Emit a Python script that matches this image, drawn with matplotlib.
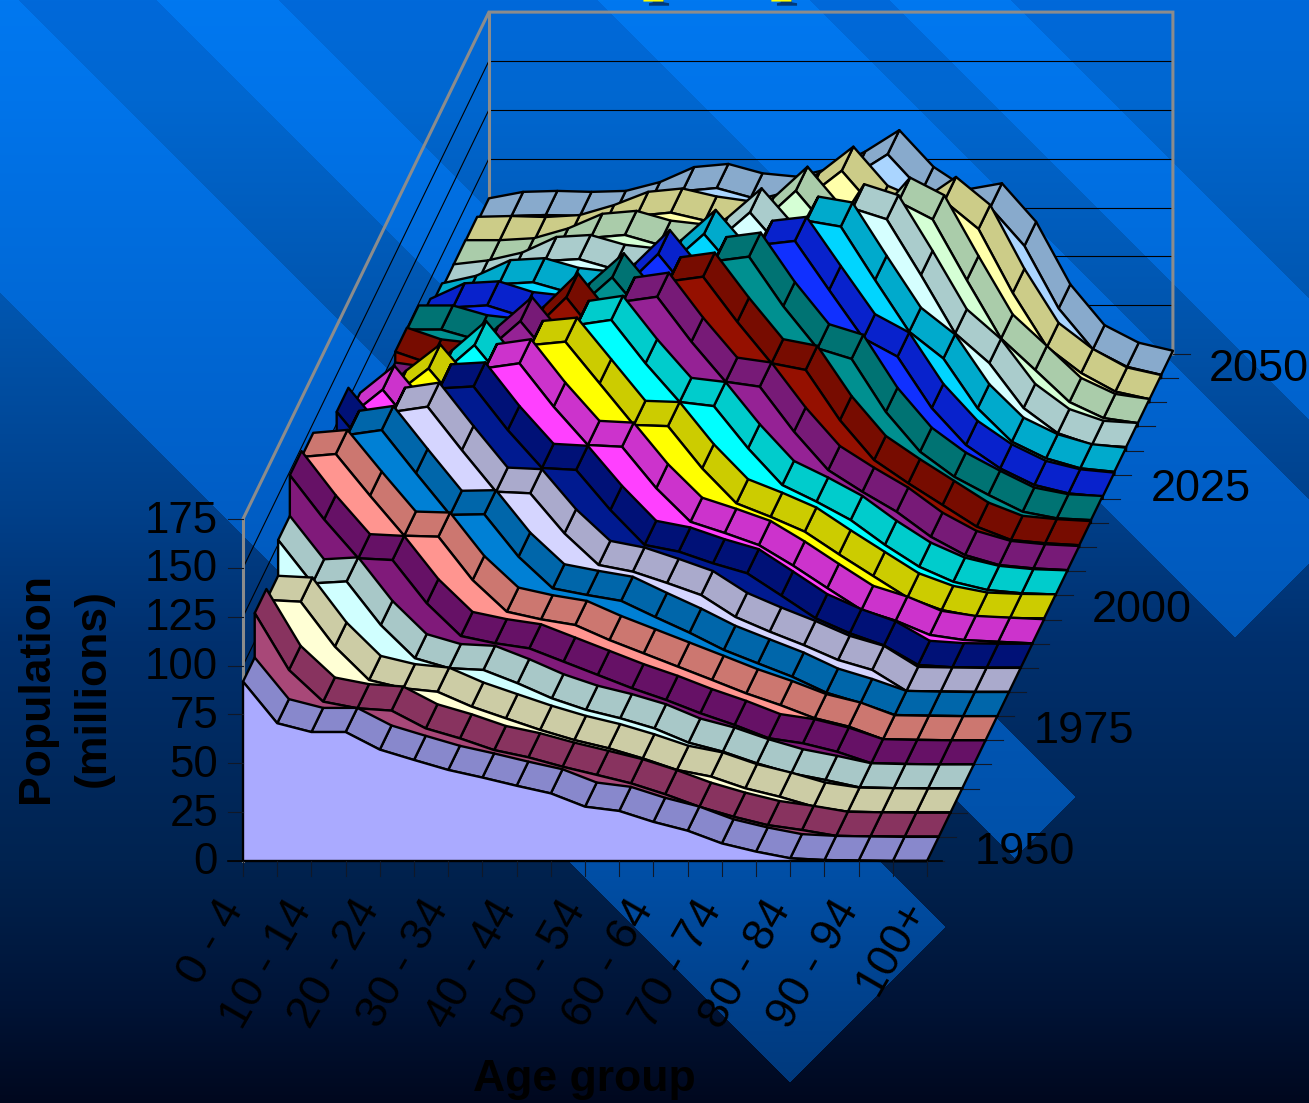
import numpy as np
import matplotlib
matplotlib.use("Agg")
import matplotlib.pyplot as plt
import matplotlib.patheffects as pe
from matplotlib.patches import Polygon

W, H = 1309, 1103
plt.rcParams['font.family'] = ['Liberation Sans', 'DejaVu Sans']

years = [1950 + 5 * k for k in range(21)]
year_labels = {0: '1950', 5: '1975', 10: '2000', 15: '2025', 20: '2050'}
age_labels = ['0 - 4', '10 - 14', '20 - 24', '30 - 34', '40 - 44', '50 - 54',
              '60 - 64', '70 - 74', '80 - 84', '90 - 94', '100+']
value_ticks = [0, 25, 50, 75, 100, 125, 150, 175]

p1950 = [91.8,70.5,66,66,57,51.7,46.6,42.7,38.5,34.6,27.8,25.6,20,15.5,9,4.8,1.4,0.5,0.2,0,0]
p1955 = [114.5,85.4,69.2,65.8,64.6,55.5,50.4,44.4,40.7,35.9,31.7,27.4,21.8,15.4,10.3,6,3.5,0.5,0.2,0,0]
p1960 = [108.9,108,85,67.9,63.7,61.9,54.3,48.3,42.4,37.2,33,27.8,21.9,18.5,12.5,8.2,3.1,0.5,0.2,0,0]
p1965 = [127.2,105,106,83.7,66.7,61.6,60.7,53.9,46.2,40.3,36,30.8,23.5,18.9,12.9,7.8,4.4,0.6,0.2,0,0]
p1970 = [148,125.4,105.5,104.6,82.5,65.7,62,59.4,52.6,45.8,39,33,26.2,20.2,13.4,10.8,6.5,0.6,0.2,0,0]
p1975 = [145,146.5,125.2,104.7,104.2,82,65.8,61.9,59,51.3,44.5,37.7,30.9,24,18,11.3,7,0.5,0.2,0,0]
p1980 = [110,143.9,146.4,124.4,103,103.3,81.6,65.4,62,59,50.7,42.7,33.9,27,20.2,12,6.7,0.6,0.2,0,0]
p1985 = [112,108,143.4,146,123.8,102.5,101.7,81.2,65,61.6,55.8,49.6,38.4,30.9,24,16.4,11.3,0.5,0.2,0,0]
p1990 = [131,110,106,143,144,121.7,102.3,101.3,80.8,62.9,59.5,53.5,48.4,37,25.4,17.7,11.5,1.5,0.3,0,0]
p1995 = [116,130,109,105,141,143.5,121.3,101.7,100.8,79.6,62.4,56.7,50.5,40,28.5,17.3,11.8,4.5,1.9,1,0.2]
p2000 = [98,115,128.5,108,104,140.5,142.2,120.9,99.6,99,77.4,59.5,52.6,45,33.4,22.3,11.3,4.9,1.5,0.8,0.6]
p2005 = [93,97,113,128.1,107,103,138.4,141,118.8,99,96.9,75.3,56.5,48,38.6,25.9,14.7,7,2.8,1.1,0.5]
p2010 = [94.5,92,97,112.8,128,107,102,138,140.5,117.5,97,94.5,71.5,51.8,40.7,30.5,17.7,8.3,3.2,1.5,0.6]
p2015 = [100,94,92,96.5,110.7,127.8,106,101,136,138.4,115.3,94.1,90.7,65,44.6,32.7,21.6,10.5,3.7,2,1]
p2020 = [99,99,94,92,96,110.3,125.7,105,100,134,136.3,111,89.4,84,56.9,36.5,23.7,14.4,5.8,2.4,1.5]
p2025 = [90,98,99,93.5,91.5,96,108.2,125.3,104,99,130,132,106.9,82.2,72.8,46.5,27.6,15.6,7.1,2.8,1.1]
p2030 = [85.6,89.5,97.5,98.5,93.5,91.5,96,107.8,123.2,103,98,130,127,99.7,73.2,59.5,34,16.9,8.4,3.3,1.5]
p2035 = [83,85,89,97,98,93,91,95.5,106.8,121.9,102,97,124,118.4,89.9,60,44.8,21.8,8.9,2.9,1.8]
p2040 = [83,83,84,89,96.5,98,93,91,95.5,104.6,120.6,100,95,115,106,74.9,45,28.9,12.5,4.3,1.7]
p2045 = [82.6,83,82.5,83.5,88.6,95.4,97.1,93,90.5,95,105,118.5,98.5,91,103,88.7,56,28.3,15,5.5,1.6]
p2050 = [79.7,83,83.5,83,83.5,88,95.7,97.3,92.5,90.8,95,103.6,114.6,95.8,84.3,87.4,67.7,35.7,14.8,5.8,1.7]

rows = [p1950,p1955,p1960,p1965,p1970,p1975,p1980,p1985,p1990,p1995,p2000,
        p2005,p2010,p2015,p2020,p2025,p2030,p2035,p2040,p2045,p2050]

front_colors = ['#AAAAFF','#A84878','#FFFFD5','#D0FFFF','#801A7A','#FF9590','#0080D5',
                '#D5D5FF','#001A90','#FF40FF','#FFFF00','#00FFFF','#952295','#951000',
                '#009090','#1030FF','#00D5FF','#D5FFFF','#D5FFD5','#FFFFAA','#AAD5FF']
top_colors = ['#8888CC','#88335F','#CCCCA5','#A8C8C8','#661166','#CC7770','#0066AA',
              '#AAAACC','#001177','#CC33CC','#CCCC00','#00CCCC','#771A77','#770C00',
              '#007373','#0822CC','#00AACC','#AACCCC','#AACCAA','#CCCC88','#88AACC']

# projection of the 3-D area chart (pixels)
X0, Y0 = 243.0, 861.0
DX, DZX, DZY, DV = 34.2, 11.71, 24.14, 1.954
def sx(i, j): return X0 + DX * i + DZX * j
def sy(j, v): return Y0 - DZY * j - DV * v

fig = plt.figure(figsize=(W / 100, H / 100), dpi=100)
ax = fig.add_axes([0, 0, 1, 1])
ax.set_xlim(0, W); ax.set_ylim(H, 0); ax.axis('off')

# background: vertical gradient with diagonal lighter bands
ystops = [0, 100, 300, 500, 640, 860, 1000, 1103]
dark = np.array([[0,105,218],[0,103,208],[0,86,176],[0,65,140],[0,48,110],[0,35,80],[0,20,55],[0,8,30]], float)
bright = np.array([[0,120,240],[0,116,234],[0,105,215],[0,94,198],[0,88,184],[0,80,168],[0,65,140],[0,55,120]], float)
yy, xx = np.mgrid[0:H, 0:W]
rgb = np.zeros((H, W, 3))
for c in range(3):
    d = np.interp(yy, ystops, dark[:, c])
    b = np.interp(yy, ystops, bright[:, c])
    mask = np.zeros_like(yy, bool)
    for lo, hi in [(-18, 292), (-278, -157), (-598 - 211, -598), (-1010, -890)]:
        mask |= ((yy - xx) >= lo) & ((yy - xx) <= hi)
    mask &= (xx + yy) <= 1871
    rgb[..., c] = np.where(mask, b, d)
ax.imshow(rgb / 255, extent=(0, W, H, 0), aspect='auto', zorder=0, interpolation='nearest')

GREY = '#8C8C8C'
FAR = len(rows)
# walls
for v in value_ticks[1:-1]:
    ax.plot([sx(0, 0), sx(0, FAR)], [sy(0, v), sy(FAR, v)], color='k', lw=0.8, zorder=1)
    ax.plot([sx(0, FAR), sx(20, FAR)], [sy(FAR, v), sy(FAR, v)], color='k', lw=0.8, zorder=1)
top = value_ticks[-1]
ax.plot([sx(0, 0), sx(0, FAR), sx(20, FAR), sx(20, FAR)],
        [sy(0, top), sy(FAR, top), sy(FAR, top), sy(FAR, 0)], color=GREY, lw=2.2, zorder=1, solid_joinstyle='miter')
ax.plot([sx(0, FAR), sx(0, FAR)], [sy(FAR, top), sy(FAR, 0)], color=GREY, lw=2.2, zorder=1)
ax.plot([sx(0, 0), sx(0, 0)], [sy(0, top), sy(0, 0)], color=GREY, lw=2.2, zorder=1)

# series, back to front
LW = 1.7
z = 2.0
for j in range(FAR - 1, -1, -1):
    vals = rows[j]
    for i in range(len(vals) - 2, -1, -1):
        quad = [(sx(i, j), sy(j, vals[i])), (sx(i + 1, j), sy(j, vals[i + 1])),
                (sx(i + 1, j + 1), sy(j + 1, vals[i + 1])), (sx(i, j + 1), sy(j + 1, vals[i]))]
        ax.add_patch(Polygon(quad, closed=True, fc=top_colors[j], ec='k', lw=LW, joinstyle='round', zorder=z))
        z += 0.001
    face = [(sx(i, j), sy(j, vals[i])) for i in range(len(vals))]
    face += [(sx(20, j), sy(j, 0)), (sx(0, j), sy(j, 0))]
    ax.add_patch(Polygon(face, closed=True, fc=front_colors[j], ec='k', lw=LW, joinstyle='round', zorder=z))
    z += 0.001

# ticks
for v in value_ticks:
    ax.plot([sx(0, 0) - 15, sx(0, 0)], [sy(0, v), sy(0, v)], color='#101828', lw=0.8, zorder=50)
    ax.text(218, sy(0, v) + 2, str(v), ha='right', va='center', fontsize=31.5, color='k', zorder=60)
ax.plot([sx(0, 0) - 15, sx(20, 0) + 15], [sy(0, 0), sy(0, 0)], color='k', lw=1.2, zorder=50)
for i in range(21):
    ax.plot([sx(i, 0), sx(i, 0)], [sy(0, 0), sy(0, 0) + 15], color='#101828', lw=0.8, zorder=50)
for k, lab in enumerate(age_labels):
    i = 2 * k
    ax.text(sx(i, 0) - 27, 893, lab, rotation=60, rotation_mode='anchor', ha='right', va='top',
            fontsize=32.5, color='k', zorder=60)
for j in range(FAR + 1):
    ax.plot([sx(20, j), sx(20, j) + 17], [sy(j, 0), sy(j, 0)], color='#101828', lw=0.8, zorder=1.5)
for j, lab in year_labels.items():
    ax.text(sx(20, j) + 48, sy(j, 0) - 9, lab, ha='left', va='center', fontsize=32.5, color='k', zorder=60)

# titles
ax.text(65, 688, 'Population\n(millions)', rotation=90, ha='center', va='center', fontsize=32,
        fontweight='bold', color='k', linespacing=1.5, zorder=60)
ax.text(584, 1079, 'Age group', ha='center', va='center', fontsize=32, fontweight='bold', color='k', zorder=60)

# cut-off chart title: only letter feet reach the picture
for xc in (664, 792):
    ax.text(xc, -15, 'p', ha='center', va='baseline', family='Liberation Serif', fontweight='bold',
            fontsize=56, color='#FFFF00', zorder=61,
            path_effects=[pe.withSimplePatchShadow(offset=(4, -3), shadow_rgbFace='#00204a', alpha=0.7)])

fig.savefig('out.png', dpi=100)
